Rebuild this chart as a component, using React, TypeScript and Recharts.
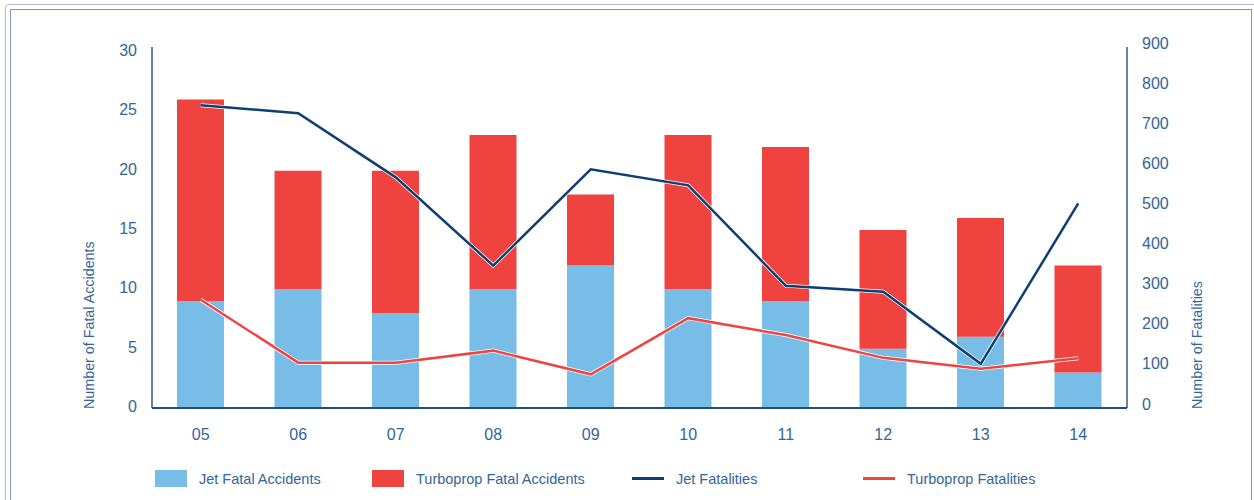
import React from 'react';
import {
  ComposedChart, Bar, Line, XAxis, YAxis, Legend, Label
} from 'recharts';

const years = ['05', '06', '07', '08', '09', '10', '11', '12', '13', '14'];
const jetAccidents = [9, 10, 8, 10, 12, 10, 9, 5, 6, 3];
const turbopropAccidents = [17, 10, 12, 13, 6, 13, 13, 10, 10, 9];
const jetFatalities = [755, 735, 575, 355, 595, 555, 305, 290, 110, 510];
const turbopropFatalities = [270, 113, 113, 143, 84, 224, 182, 125, 98, 124];
const accidentTicks = [0, 5, 10, 15, 20, 25, 30];
const fatalityTicks = [0, 100, 200, 300, 400, 500, 600, 700, 800, 900];
const seriesNames = ['Jet Fatal Accidents', 'Turboprop Fatal Accidents', 'Jet Fatalities', 'Turboprop Fatalities'];

const data = years.map((year, i) => ({
  year,
  jetAccidents: jetAccidents[i],
  turbopropAccidents: turbopropAccidents[i],
  jetFatalities: jetFatalities[i],
  turbopropFatalities: turbopropFatalities[i],
}));

const FONT = '"Liberation Sans", Arial, sans-serif';
const TEXT = '#33659a';
const AXIS = '#1f4f80';
const JET_BAR = '#77bde8';
const TURBO = '#ef4340';
const JET_LINE = '#0d3f73';

// left edges of the four legend entries
const legendLeft = [155, 372, 632, 863];

const tick = (anchor: 'start' | 'middle' | 'end', dy: string) => (props: any) => {
  const { x, y, payload } = props;
  return (
    <text x={x} y={y} dy={dy} textAnchor={anchor} fill={TEXT} fontSize={16} fontFamily={FONT}>
      {payload.value}
    </text>
  );
};

const axisTitle = (text: string, offset: number) => (props: any) => {
  const { viewBox } = props;
  const x = viewBox.x + offset;
  const y = viewBox.y + viewBox.height + 1;
  return (
    <text
      x={x}
      y={y}
      transform={`rotate(-90, ${x}, ${y})`}
      textAnchor="start"
      dominantBaseline="central"
      fill={TEXT}
      fontSize={14.3}
      fontFamily={FONT}
    >
      {text}
    </text>
  );
};

const renderLegend = (props: any) => {
  const items = (props.payload || [])
    .filter((p: any) => p.type !== 'none')
    .sort((a: any, b: any) => seriesNames.indexOf(a.value) - seriesNames.indexOf(b.value));
  return (
    <div style={{ position: 'relative', height: 44, fontFamily: FONT }}>
      {items.map((item: any, i: number) => (
        <div
          key={item.value}
          style={{ position: 'absolute', left: legendLeft[i], top: 22, height: 17, display: 'flex', alignItems: 'center' }}
        >
          {item.type === 'rect' ? (
            <span style={{ width: 32, height: 17, background: item.color, display: 'inline-block' }} />
          ) : (
            <span style={{ width: 32, height: 3, background: item.color, display: 'inline-block' }} />
          )}
          <span style={{ marginLeft: 12, fontSize: 14.5, color: TEXT, whiteSpace: 'nowrap' }}>{item.value}</span>
        </div>
      ))}
    </div>
  );
};

export default function App() {
  return (
    <div style={{ position: 'absolute', left: 0, top: 0, width: 1254, height: 500, overflow: 'hidden', background: '#fff' }}>
      <div style={{ position: 'absolute', left: 5, top: 4, width: 1262, height: 520, border: '1.5px solid #aab9da', borderRadius: 4 }} />
      <div style={{ position: 'absolute', left: 10, top: 9, width: 1240, height: 520, border: '1px solid #7f96c6' }} />
      <div style={{ position: 'absolute', left: 0, top: 0 }}>
        <ComposedChart
          width={1254}
          height={500}
          data={data}
          margin={{ top: 47, right: 67, left: 92, bottom: 8 }}
          barCategoryGap={0}
        >
          <XAxis
            dataKey="year"
            height={40}
            tickLine={false}
            tickMargin={15}
            stroke={AXIS}
            strokeWidth={2.2}
            tick={tick('middle', '0.71em')}
          />
          <YAxis
            yAxisId="left"
            width={60}
            domain={[0, 30.42]}
            ticks={accidentTicks}
            tickLine={false}
            tickMargin={9}
            stroke={AXIS}
            strokeWidth={1.4}
            tick={tick('end', '0.26em')}
          >
            <Label content={axisTitle('Number of Fatal Accidents', -3)} />
          </YAxis>
          <YAxis
            yAxisId="right"
            orientation="right"
            width={60}
            domain={[0, 900]}
            ticks={fatalityTicks}
            tickLine={false}
            tickMargin={9}
            stroke={AXIS}
            strokeWidth={1.4}
            tick={tick('start', '0.1em')}
          >
            <Label content={axisTitle('Number of Fatalities', 70)} />
          </YAxis>
          <Legend
            verticalAlign="bottom"
            content={renderLegend}
            wrapperStyle={{ left: 0, width: 1254, bottom: 8, height: 44 }}
          />
          <Bar yAxisId="left" dataKey="jetAccidents" name="Jet Fatal Accidents" stackId="a" fill={JET_BAR} barSize={47} isAnimationActive={false} />
          <Bar yAxisId="left" dataKey="turbopropAccidents" name="Turboprop Fatal Accidents" stackId="a" fill={TURBO} barSize={47} isAnimationActive={false} />
          {/* thin white edge under each fatality line */}
          <Line yAxisId="right" dataKey="jetFatalities" stroke="#ffffff" strokeWidth={4} dot={false} activeDot={false} legendType="none" isAnimationActive={false} />
          <Line yAxisId="right" dataKey="jetFatalities" name="Jet Fatalities" stroke={JET_LINE} strokeWidth={2.5} dot={false} isAnimationActive={false} />
          <Line yAxisId="right" dataKey="turbopropFatalities" stroke="#ffffff" strokeWidth={4} dot={false} activeDot={false} legendType="none" isAnimationActive={false} />
          <Line yAxisId="right" dataKey="turbopropFatalities" name="Turboprop Fatalities" stroke={TURBO} strokeWidth={2.5} dot={false} isAnimationActive={false} />
        </ComposedChart>
      </div>
    </div>
  );
}
